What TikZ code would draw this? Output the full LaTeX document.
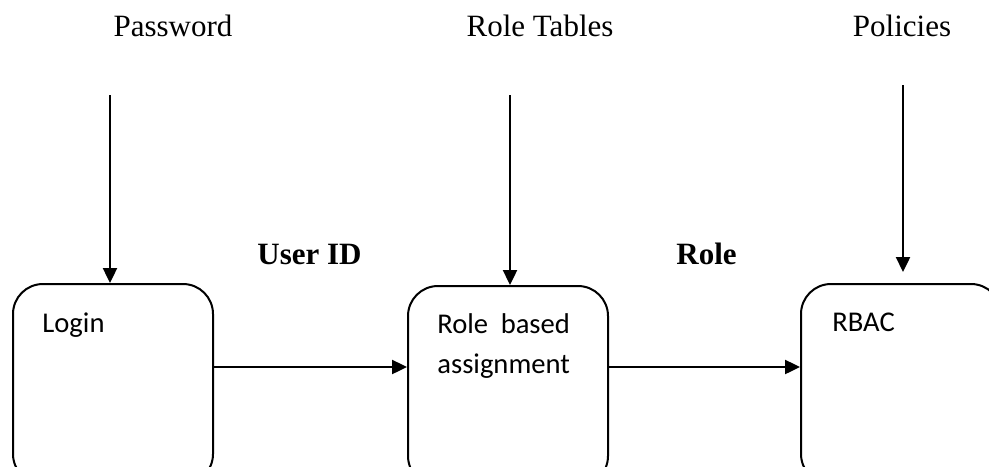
\documentclass[tikz,border=0pt]{standalone}
\usepackage{fontspec}
\usepackage{calc}
\setmainfont{Liberation Serif}
\newfontfamily\boxfont{Carlito}
\usetikzlibrary{arrows.meta}
\begin{document}
\begin{tikzpicture}[x=0.5pt,y=-0.5pt,
  stagebox/.style={draw, line width=1pt, rounded corners=15pt,
    minimum width=100pt, minimum height=100pt, inner sep=0pt, anchor=north west},
  flow/.style={line width=1.2pt, -{Triangle[length=7.5pt,width=7pt]}},
  boxtext/.style={font=\boxfont\fontsize{14.3pt}{20pt}\selectfont,
    anchor=base west, inner sep=0pt, align=left},
  toplabel/.style={font=\fontsize{15.5pt}{18pt}\selectfont, anchor=base, inner sep=0pt},
  flowlabel/.style={font=\bfseries\fontsize{15.5pt}{18pt}\selectfont, anchor=base west, inner sep=0pt}]
\useasboundingbox (0,0) rectangle (989,466);
\clip (0,0) rectangle (989,466);

% stages
\node[stagebox] (login) at (12,283) {};
\node[stagebox] (role)  at (407,285) {};
\node[stagebox] (rbac)  at (800,283) {};

\node[boxtext] (logintxt) at (42,332) {Login};
\node[boxtext] (roletxt)  at (437,373)
  {\makebox[\widthof{assignment}][s]{Role based}\\[0pt]assignment};
\node[boxtext] (rbactxt)  at (832,331) {RBAC};

% inputs from above
\node[toplabel] (pw) at (173,36) {Password};
\node[toplabel] (rt) at (540,36) {Role Tables};
\node[toplabel] (po) at (902,36) {Policies};

\coordinate (pwstart) at (110,95);
\coordinate (rtstart) at (510,95);
\coordinate (postart) at (903,85);
\coordinate (poend)   at (903,272);

\draw[flow] (pwstart) -- (pwstart |- login.north);
\draw[flow] (rtstart) -- (rtstart |- role.north);
\draw[flow] (postart) -- (poend);

% flow between stages
\coordinate (hline) at (0,367);
\draw[flow] (login.east |- hline) -- (role.west |- hline);
\draw[flow] (role.east |- hline) -- (rbac.west |- hline);

\node[flowlabel] (uid)  at (257,264) {User ID};
\node[flowlabel] (rlab) at (676,264) {Role};
\end{tikzpicture}
\end{document}
